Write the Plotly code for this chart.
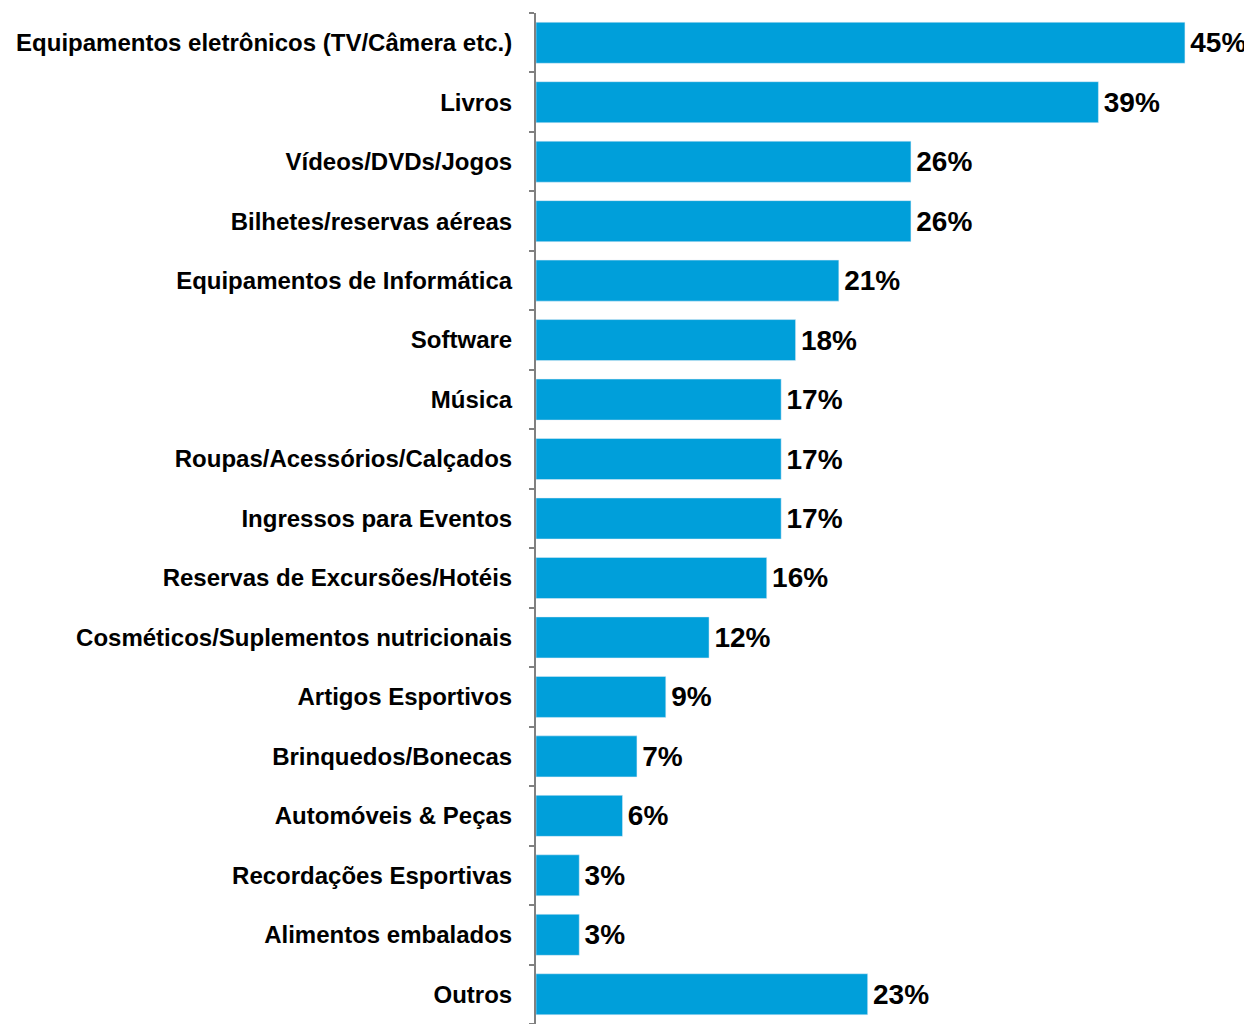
import plotly.graph_objects as go

categorias = ['Equipamentos eletrônicos (TV/Câmera etc.)', 'Livros', 'Vídeos/DVDs/Jogos',
              'Bilhetes/reservas aéreas', 'Equipamentos de Informática', 'Software', 'Música',
              'Roupas/Acessórios/Calçados', 'Ingressos para Eventos', 'Reservas de Excursões/Hotéis',
              'Cosméticos/Suplementos nutricionais', 'Artigos Esportivos', 'Brinquedos/Bonecas',
              'Automóveis & Peças', 'Recordações Esportivas', 'Alimentos embalados', 'Outros']
valores = [45, 39, 26, 26, 21, 18, 17, 17, 17, 16, 12, 9, 7, 6, 3, 3, 23]

fig = go.Figure(go.Bar(x=valores, y=categorias, orientation='h',
                       marker_color='#009fda', width=0.69,
                       texttemplate='\u200a<b>%{x}%</b>', textposition='outside',
                       textfont=dict(size=28, color='black', family='Liberation Sans'),
                       cliponaxis=False))

# negrito via HTML nos rótulos
fig.update_yaxes(autorange='reversed', tickson='boundaries', ticks='outside', ticklen=5,
                 tickcolor='#808080', tickwidth=1.5, showline=True, linecolor='#808080',
                 linewidth=2, ticklabelstandoff=17,
                 tickmode='array', tickvals=categorias,
                 ticktext=['<b>' + c + '</b>' for c in categorias],
                 tickfont=dict(size=24, color='black', family='Liberation Sans'),
                 showgrid=False, automargin=False)
fig.update_xaxes(range=[0, 49.65], visible=False, showgrid=False, automargin=False)

# a página tem margem de 8px no body
fig.update_layout(width=1244, height=1016,
                  margin=dict(l=528, r=0, t=5, b=0, autoexpand=False),
                  plot_bgcolor='white', paper_bgcolor='white',
                  font=dict(family='Liberation Sans'), showlegend=False)

fig.write_html("out.html")
